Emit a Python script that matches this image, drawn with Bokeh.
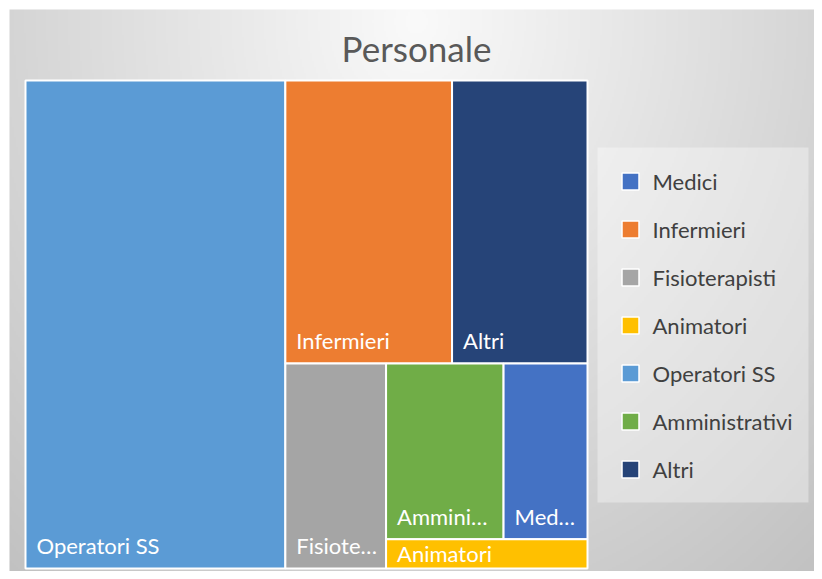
import numpy as np
from bokeh.plotting import figure
from bokeh.models import Range1d, ColumnDataSource, Label
from bokeh.core.properties import value
from bokeh.embed import file_html
from bokeh.resources import INLINE

# ---- data (legend / data order) ----
categories = ["Medici", "Infermieri", "Fisioterapisti", "Animatori",
              "Operatori SS", "Amministrativi", "Altri"]
counts = [5, 16, 7, 2, 43, 7, 13]
colors = ["#4472C4", "#ED7D31", "#A5A5A5", "#FFC000",
          "#5B9BD5", "#70AD47", "#264478"]
tile_labels = ["Med…", "Infermieri", "Fisiote…", "Animatori",
               "Operatori SS", "Ammini…", "Altri"]
title_text = "Personale"
row_sizes = [1, 2, 1, 2, 1]   # items per strip of the treemap layout

FONT = "Lato"
W, H = 814, 571
CX0, CY0 = 9, 9   # chart area starts here (white margin before)

p = figure(width=W, height=H, x_range=Range1d(0, W),
           y_range=Range1d(H, 0), output_backend="svg",
           toolbar_location=None, min_border=0)
p.axis.visible = False
p.grid.visible = False
p.outline_line_color = None
p.background_fill_color = "white"
p.border_fill_color = "white"

# ---- radial gradient background of the chart area ----
nx, ny = 402, 281
gx = np.linspace(CX0, W, nx)
gy = np.linspace(CY0, H, ny)
GX, GY = np.meshgrid(gx, gy)
d = np.sqrt(((GX - 416) / 677.0) ** 2 + ((GY - 20) / 804.0) ** 2)
t = np.clip(d, 0, 1)
c = (250 - 62 * t).astype(np.uint32)
img = (255 << 24) | (c << 16) | (c << 8) | c
p.image_rgba(image=[img.astype(np.uint32)], x=CX0, y=CY0,
             dw=W - CX0, dh=H - CY0)

# ---- treemap layout ----
order = sorted(range(len(counts)), key=lambda i: -counts[i])
vals = [counts[i] for i in order]


def layout(vals, sizes, x0, y0, x1, y1):
    rects = []
    i = 0
    for n in sizes:
        group = vals[i:i + n]
        gsum = sum(group)
        rest = sum(vals[i:])
        frac = gsum / rest
        w, h = x1 - x0, y1 - y0
        if w >= h:
            xs = x0 + w * frac
            yy = y0
            for v in group:
                hh = h * v / gsum
                rects.append((x0, xs, yy, yy + hh))
                yy += hh
            x0 = xs
        else:
            ys = y0 + h * frac
            xx = x0
            for v in group:
                ww = w * v / gsum
                rects.append((xx, xx + ww, y0, ys))
                xx += ww
            y0 = ys
        i += n
    return rects


rects = layout(vals, row_sizes, 25, 80, 587, 568)
src = ColumnDataSource(dict(
    left=[r[0] for r in rects], right=[r[1] for r in rects],
    top=[r[2] for r in rects], bottom=[r[3] for r in rects],
    color=[colors[i] for i in order], name=[categories[i] for i in order],
    label=[tile_labels[i] for i in order],
    lx=[r[0] + 11 for r in rects],
    ly=[max(r[3] - 23, r[2] + 14) for r in rects],
))
p.quad(left="left", right="right", top="top", bottom="bottom", source=src,
       fill_color="color", line_color="white", line_width=2)
p.text(x="lx", y="ly", text="label", source=src, text_color="white",
       text_font=value(FONT), text_font_size="22px",
       text_baseline="alphabetic", text_align="left")

# ---- title ----
p.add_layout(Label(x=416, y=47, text=title_text, text_align="center",
                   text_baseline="alphabetic", text_font=FONT,
                   text_font_size="35px", text_color="#595959"))

# ---- legend ----
p.quad(left=[597], right=[808], top=[147], bottom=[502],
       fill_color="white", fill_alpha=0.35, line_color=None)
leg = ColumnDataSource(dict(
    x=[630] * len(categories),
    y=[181 + 48 * i for i in range(len(categories))],
    tx=[652] * len(categories),
    color=colors, name=categories,
))
p.scatter(x="x", y="y", source=leg, marker="square", size=17,
          fill_color="color", line_color="white", line_width=1.5)
p.text(x="tx", y="y", text="name", source=leg, text_color="#404040",
       text_font=value(FONT), text_font_size="22px",
       text_baseline="middle", text_align="left")

open("out.html", "w").write(file_html(p, INLINE))
